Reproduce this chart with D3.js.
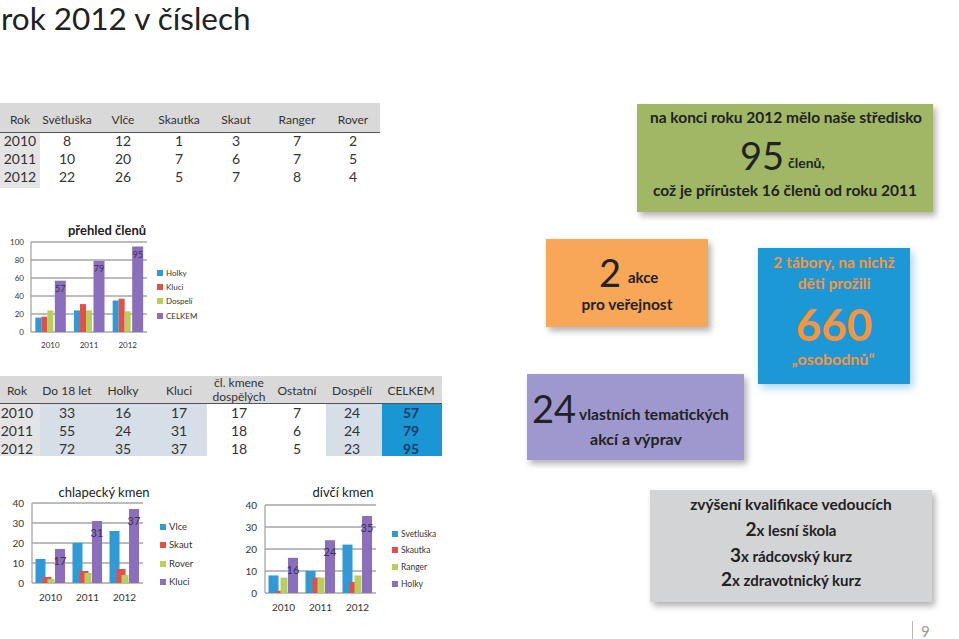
<!DOCTYPE html>
<html><head><meta charset="utf-8">
<script src="https://cdn.jsdelivr.net/npm/d3@7"></script>
<style>body{margin:0;background:#fff} svg{display:block;font-family:Lato,"Open Sans",sans-serif}</style>
</head><body><svg id="c" width="959" height="639"></svg>
<script>
// ---------- DATA ----------
const years = ["2010","2011","2012"];
const t1Header = ["Rok","Světluška","Vlče","Skautka","Skaut","Ranger","Rover"];
const svetluska = [8,10,22], vlce = [12,20,26], skautka = [1,7,5], skaut = [3,6,7], ranger = [7,7,8], rover = [2,5,4];
const t2Header = ["Rok","Do 18 let","Holky","Kluci","čl. kmene|dospělých","Ostatní","Dospělí","CELKEM"];
const do18 = [33,55,72], holky = [16,24,35], kluci = [17,31,37], clKmene = [17,18,18], ostatni = [7,6,5], dospeli = [24,24,23], celkem = [57,79,95];
const chart1Title = "přehled členů";
const chart1Series = ["Holky","Kluci","Dospelí","CELKEM"];
const chart1Values = [holky, kluci, dospeli, celkem];
const chart1Ticks = [0,20,40,60,80,100];
const chart2Title = "chlapecký kmen";
const chart2Series = ["Vlce","Skaut","Rover","Kluci"];
const chart2Values = [vlce, skaut, rover, kluci];
const chart2Ticks = [0,10,20,30,40];
const chart3Title = "dívčí kmen";
const chart3Series = ["Svetluška","Skautka","Ranger","Holky"];
const chart3Values = [svetluska, skautka, ranger, holky];
const chart3Ticks = [0,10,20,30,40];

// ---------- DRAW ----------
const svg = d3.select("#c");
const colors = ["#2f9ad6","#e2504a","#b9cf5c","#8b6fbd"];
const defs = svg.append("defs");
const f = defs.append("filter").attr("id","sh").attr("x","-20%").attr("y","-20%").attr("width","140%").attr("height","150%");
f.append("feDropShadow").attr("dx",3).attr("dy",4).attr("stdDeviation",3).attr("flood-color","#000").attr("flood-opacity",0.3);
const fb = defs.append("filter").attr("id","shb").attr("x","-20%").attr("y","-20%").attr("width","140%").attr("height","150%");
fb.append("feDropShadow").attr("dx",3).attr("dy",4).attr("stdDeviation",4).attr("flood-color","#3aa0e0").attr("flood-opacity",0.45);

// title
svg.append("text").attr("x",1).attr("y",30).attr("font-size",31.5).attr("fill","#222").text("rok 2012 v číslech");

// ----- table 1
(function(){
  const g = svg.append("g");
  const cx = [20,67,123,179,236,297,353];
  g.append("rect").attr("x",0).attr("y",103).attr("width",380).attr("height",29).attr("fill","#d9d9d9");
  g.append("rect").attr("x",0).attr("y",133).attr("width",40).attr("height",55).attr("fill","#e4e4e4");
  g.append("line").attr("x1",0).attr("x2",380).attr("y1",132.5).attr("y2",132.5).attr("stroke","#555").attr("stroke-width",1.2);
  g.selectAll(".h").data(t1Header).join("text").attr("x",(d,i)=>cx[i]).attr("y",124).attr("text-anchor","middle")
    .attr("font-size",12).attr("fill","#333").text(d=>d);
  const rows = years.map((y,i)=>[y,svetluska[i],vlce[i],skautka[i],skaut[i],ranger[i],rover[i]]);
  rows.forEach((r,ri)=>{
    g.selectAll(null).data(r).join("text").attr("x",(d,i)=>cx[i]).attr("y",146+ri*18).attr("text-anchor","middle")
      .attr("font-size",14).attr("fill","#333").text(d=>d);
  });
})();

// ----- table 2
(function(){
  const g = svg.append("g");
  const cx = [17,67,123,179,239,297,352,411];
  g.append("rect").attr("x",0).attr("y",376).attr("width",442).attr("height",27).attr("fill","#d9d9d9");
  g.append("rect").attr("x",0).attr("y",404).attr("width",40).attr("height",52).attr("fill","#e4e4e4");
  g.append("rect").attr("x",40).attr("y",404).attr("width",167).attr("height",52).attr("fill","#d6dee7");
  g.append("rect").attr("x",326).attr("y",404).attr("width",56).attr("height",52).attr("fill","#d6dee7");
  g.append("rect").attr("x",382).attr("y",404).attr("width",60).attr("height",52).attr("fill","#1b96d4");
  g.append("line").attr("x1",0).attr("x2",442).attr("y1",403.5).attr("y2",403.5).attr("stroke","#555").attr("stroke-width",1.2);
  t2Header.forEach((h,i)=>{
    const parts = h.split("|");
    parts.forEach((p,pi)=>{
      g.append("text").attr("x",cx[i]).attr("y",parts.length>1 ? 387+pi*14 : 395).attr("text-anchor","middle")
        .attr("font-size",12).attr("fill","#333").text(p);
    });
  });
  const rows = years.map((y,i)=>[y,do18[i],holky[i],kluci[i],clKmene[i],ostatni[i],dospeli[i],celkem[i]]);
  rows.forEach((r,ri)=>{
    g.selectAll(null).data(r).join("text").attr("x",(d,i)=>cx[i]).attr("y",418+ri*18).attr("text-anchor","middle")
      .attr("font-size",14).attr("font-weight",(d,i)=>i===7?"bold":"normal")
      .attr("fill",(d,i)=>i===7?"#1c3a66":"#333").text(d=>d);
  });
})();

// ----- bar charts
function barChart(cfg){
  const g = svg.append("g");
  const x = d3.scaleBand().domain(years).range([cfg.x0,cfg.x1]);
  const y = d3.scaleLinear().domain([0,d3.max(cfg.ticks)]).range([cfg.y0,cfg.y1]);
  g.selectAll(".grid").data(cfg.ticks).join("line").attr("x1",cfg.x0).attr("x2",cfg.x1)
    .attr("y1",d=>y(d)).attr("y2",d=>y(d)).attr("stroke","#a6a6a6").attr("stroke-width",1.3);
  g.append("line").attr("x1",cfg.x0).attr("x2",cfg.x0).attr("y1",y(0)).attr("y2",y(d3.max(cfg.ticks))).attr("stroke","#a6a6a6").attr("stroke-width",1.3);
  const ya = g.append("g").attr("transform",`translate(${cfg.x0},0)`)
    .call(d3.axisLeft(y).tickValues(cfg.ticks).tickSize(0).tickPadding(cfg.ypad));
  ya.select(".domain").remove();
  ya.selectAll("text").attr("font-size",cfg.fs).attr("fill","#333").attr("font-family","Lato");
  const xa = g.append("g").attr("transform",`translate(0,${cfg.y0})`)
    .call(d3.axisBottom(x).tickSize(0).tickPadding(cfg.xpad));
  xa.select(".domain").remove();
  xa.selectAll("text").attr("font-size",cfg.fs).attr("fill","#333").attr("font-family","Lato");
  cfg.values.forEach((vals,si)=>{
    const o = cfg.offsets[si];
    g.selectAll(null).data(vals).join("rect")
      .attr("x",(d,i)=>x(years[i])+x.bandwidth()/2+o[0]).attr("width",o[1])
      .attr("y",d=>y(d)).attr("height",d=>y(0)-y(d)).attr("fill",colors[si]);
  });
  const last = cfg.values.length-1, lo = cfg.offsets[last];
  g.selectAll(null).data(cfg.values[last]).join("text")
    .attr("x",(d,i)=>x(years[i])+x.bandwidth()/2+lo[0]+lo[1]/2).attr("y",d=>y(d)+cfg.lblDy)
    .attr("text-anchor","middle").attr("font-size",cfg.lblFs).attr("fill","#3a2f58").text(d=>d);
  cfg.series.forEach((s,i)=>{
    g.append("rect").attr("x",cfg.lx).attr("y",cfg.ly[i]-3).attr("width",6).attr("height",6).attr("fill",colors[i]);
    g.append("text").attr("x",cfg.lx+9).attr("y",cfg.ly[i]+3).attr("font-size",cfg.legFs).attr("fill","#333").text(s);
  });
  g.append("text").attr("x",cfg.tx).attr("y",cfg.ty).attr("text-anchor","middle").attr("font-size",13)
    .attr("font-weight",cfg.tw).attr("fill","#222").text(cfg.title);
}
barChart({title:chart1Title,series:chart1Series,values:chart1Values,ticks:chart1Ticks,
  x0:31,x1:147,y0:332,y1:242,offsets:[[-15,6],[-9,6],[-3,6],[4.5,11]],fs:8,ypad:7,xpad:10,lblDy:11,lblFs:9,
  lx:157,ly:[273,287,301,316],legFs:8,tx:107,ty:235,tw:"bold"});
barChart({title:chart2Title,series:chart2Series,values:chart2Values,ticks:chart2Ticks,
  x0:32,x1:143,y0:583,y1:503,offsets:[[-15,10],[-8,9],[-3,7],[4.5,10]],fs:10,ypad:8,xpad:11,lblDy:16,lblFs:11,
  lx:160,ly:[527,545,564,582],legFs:9.5,tx:104,ty:497,tw:"normal"});
barChart({title:chart3Title,series:chart3Series,values:chart3Values,ticks:chart3Ticks,
  x0:265,x1:376,y0:593,y1:505,offsets:[[-15,10],[-8,8],[-3,7],[4.5,10]],fs:10,ypad:8,xpad:11,lblDy:16,lblFs:11,
  lx:392,ly:[534,550,567,584],legFs:8.5,tx:343,ty:497,tw:"normal"});

// ----- info boxes
function box(x,y,w,h,fill,filt){ return svg.append("rect").attr("x",x).attr("y",y).attr("width",w).attr("height",h).attr("fill",fill).attr("filter",`url(#${filt||"sh"})`); }
function txt(x,y,s,size,opt={}){ return svg.append("text").attr("x",x).attr("y",y).attr("font-size",size)
  .attr("font-weight",opt.w||"bold").attr("fill",opt.c||"#222").attr("text-anchor",opt.a||"middle").text(s); }

box(637,104,296,108,"#a0b866");
txt(786,123,"na konci roku 2012 mělo naše středisko",15.5);
txt(784,170,"95",38,{w:"normal",a:"end"});
txt(788,168,"členů,",14,{a:"start"});
txt(785,196,"což je přírůstek 16 členů od roku 2011",15.5);

box(546,239,162,88,"#f8a658");
txt(621,287,"2",38,{w:"normal",a:"end"});
txt(628,283,"akce",15,{a:"start"});
txt(627,310,"pro veřejnost",15.5);

box(758,248,152,136,"#1a98d7","shb");
const org = "#f6953e";
txt(834,268,"2 tábory, na nichž",15.5,{c:org});
txt(834,289,"děti prožili",15.5,{c:org});
txt(834,341,"660",44,{c:org});
txt(833,365,"„osobodnů“",16,{c:org});

box(527,374,217,86,"#9e98cf");
txt(576,423,"24",38,{w:"normal",a:"end"});
txt(579,420,"vlastních tematických",15.5,{a:"start"});
txt(636,445,"akcí a výprav",16);

box(650,490,282,112,"#d3d4d6");
txt(791,510,"zvýšení kvalifikace vedoucích",15.5);
[["2","x lesní škola",536],["3","x rádcovský kurz",562],["2","x zdravotnický kurz",586]].forEach(([n,s,yy])=>{
  const t = svg.append("text").attr("x",791).attr("y",yy).attr("text-anchor","middle").attr("fill","#222").attr("font-weight","bold");
  t.append("tspan").attr("font-size",19).text(n);
  t.append("tspan").attr("font-size",15).text(s);
});

// page number
svg.append("line").attr("x1",912.5).attr("x2",912.5).attr("y1",621).attr("y2",639).attr("stroke","#bbb");
svg.append("text").attr("x",921).attr("y",637).attr("font-size",15).attr("fill","#999").text("9");
</script></body></html>
